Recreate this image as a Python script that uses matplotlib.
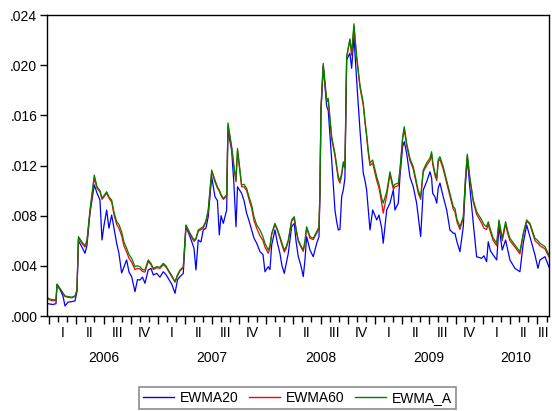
"""Daily EWMA volatility estimates, 2006-2010 (EViews-style line chart)."""

import matplotlib
matplotlib.use("Agg")

import matplotlib.pyplot as plt
import matplotlib.transforms as mtransforms
from matplotlib.lines import Line2D
from matplotlib.ticker import FixedLocator, FuncFormatter, NullFormatter


# time in decimal years, series values in units of 1e-3
T = [
    2005.979, 2006.006, 2006.034, 2006.062, 2006.071, 2006.099, 2006.126, 2006.145,
    2006.172, 2006.209, 2006.237, 2006.255, 2006.269, 2006.301, 2006.329, 2006.347,
    2006.375, 2006.415, 2006.440, 2006.467, 2006.486, 2006.504, 2006.529, 2006.550,
    2006.575, 2006.596, 2006.621, 2006.642, 2006.667, 2006.688, 2006.713, 2006.735,
    2006.759, 2006.790, 2006.813, 2006.836, 2006.859, 2006.882, 2006.912, 2006.937,
    2006.959, 2006.990, 2007.020, 2007.051, 2007.076, 2007.097, 2007.131, 2007.159,
    2007.182, 2007.205, 2007.235, 2007.260, 2007.297, 2007.334, 2007.352, 2007.373,
    2007.398, 2007.419, 2007.444, 2007.465, 2007.497, 2007.527, 2007.550, 2007.567,
    2007.583, 2007.604, 2007.635, 2007.647, 2007.681, 2007.702, 2007.721, 2007.735,
    2007.773, 2007.795, 2007.819, 2007.841, 2007.865, 2007.887, 2007.912, 2007.942,
    2007.970, 2007.988, 2008.018, 2008.034, 2008.050, 2008.080, 2008.103, 2008.126,
    2008.145, 2008.166, 2008.182, 2008.203, 2008.234, 2008.258, 2008.274, 2008.295,
    2008.320, 2008.341, 2008.357, 2008.372, 2008.403, 2008.433, 2008.465, 2008.486,
    2008.495, 2008.504, 2008.525, 2008.557, 2008.571, 2008.603, 2008.633, 2008.649,
    2008.664, 2008.679, 2008.695, 2008.710, 2008.725, 2008.741, 2008.756, 2008.771,
    2008.787, 2008.808, 2008.833, 2008.864, 2008.894, 2008.910, 2008.925, 2008.940,
    2008.956, 2008.981, 2009.018, 2009.039, 2009.064, 2009.078, 2009.110, 2009.140,
    2009.171, 2009.186, 2009.217, 2009.232, 2009.257, 2009.272, 2009.294, 2009.324,
    2009.355, 2009.386, 2009.401, 2009.423, 2009.447, 2009.478, 2009.509, 2009.524,
    2009.534, 2009.555, 2009.571, 2009.585, 2009.601, 2009.631, 2009.663, 2009.693,
    2009.724, 2009.739, 2009.758, 2009.785, 2009.816, 2009.836, 2009.853, 2009.877,
    2009.908, 2009.939, 2009.985, 2010.006, 2010.031, 2010.046, 2010.066, 2010.092,
    2010.124, 2010.145, 2010.175, 2010.206, 2010.228, 2010.246, 2010.292, 2010.338,
    2010.369, 2010.400, 2010.430, 2010.477, 2010.504, 2010.523, 2010.569, 2010.606,
]

EWMA20 = [
    1.01, 0.95, 0.92, 0.98, 2.47, 2.10, 1.60, 0.80,
    1.10, 1.15, 1.20, 1.94, 6.00, 5.50, 5.00, 5.60,
    8.20, 10.45, 9.80, 9.25, 6.06, 7.20, 8.45, 7.00,
    8.05, 7.00, 5.80, 5.00, 3.43, 3.90, 4.47, 3.50,
    3.14, 1.94, 2.90, 2.87, 3.10, 2.61, 3.67, 3.80,
    3.27, 3.40, 3.10, 3.53, 3.30, 3.00, 2.50, 1.81,
    2.90, 3.14, 3.40, 7.12, 6.33, 5.40, 3.67, 6.06,
    5.90, 6.86, 7.00, 7.92, 11.10, 9.51, 9.20, 6.46,
    8.00, 7.39, 8.45, 14.80, 13.20, 10.50, 7.12, 10.30,
    9.78, 9.20, 8.19, 7.60, 6.86, 6.20, 5.80, 5.13,
    4.90, 3.53, 3.93, 3.70, 5.66, 6.86, 5.80, 5.00,
    4.00, 3.40, 4.10, 5.00, 7.12, 7.39, 6.00, 4.73,
    4.00, 3.14, 4.50, 6.33, 5.26, 4.73, 5.80, 6.33,
    9.80, 16.20, 19.90, 16.70, 16.40, 12.44, 8.45, 7.52,
    6.86, 6.90, 9.51, 10.05, 11.00, 20.40, 20.70, 20.95,
    19.75, 22.30, 18.80, 14.80, 11.40, 10.80, 10.05, 8.50,
    6.86, 8.45, 7.66, 8.05, 7.00, 5.80, 8.45, 9.00,
    10.05, 8.45, 9.00, 11.10, 13.50, 13.90, 12.97, 11.10,
    10.30, 9.00, 7.92, 6.33, 10.05, 10.70, 11.50, 11.00,
    9.78, 9.50, 9.00, 10.20, 10.60, 9.51, 8.45, 6.86,
    6.60, 6.60, 5.90, 5.13, 7.12, 10.50, 12.57, 10.20,
    7.39, 4.73, 4.60, 4.80, 4.33, 5.92, 5.20, 4.86,
    4.47, 7.12, 5.26, 6.06, 5.20, 4.47, 3.80, 3.53,
    5.80, 7.26, 6.33, 4.86, 3.80, 4.47, 4.73, 3.90,
]

EWMA60 = [
    1.41, 1.28, 1.22, 1.22, 2.50, 2.15, 1.80, 1.55,
    1.50, 1.45, 1.55, 2.00, 6.20, 5.80, 5.50, 5.90,
    8.30, 11.00, 10.20, 9.90, 9.30, 9.50, 9.80, 9.40,
    9.10, 8.10, 7.30, 7.00, 6.40, 5.60, 5.10, 4.60,
    4.30, 3.70, 3.80, 3.75, 3.55, 3.50, 4.35, 4.10,
    3.70, 3.85, 3.80, 4.10, 3.90, 3.60, 3.10, 2.70,
    3.20, 3.60, 3.85, 7.20, 6.50, 5.95, 6.10, 6.75,
    6.90, 7.00, 7.50, 8.35, 11.50, 10.70, 10.20, 9.95,
    9.60, 9.30, 9.55, 15.20, 13.40, 11.80, 10.70, 13.20,
    10.30, 10.30, 10.00, 9.30, 8.60, 7.60, 7.00, 6.40,
    6.00, 5.50, 5.00, 5.40, 6.50, 7.30, 6.80, 6.20,
    5.65, 5.10, 5.35, 5.95, 7.55, 7.80, 6.90, 5.95,
    5.50, 5.15, 5.90, 7.00, 6.20, 6.10, 6.60, 7.00,
    10.00, 16.50, 20.00, 17.10, 17.20, 14.10, 12.80, 11.80,
    10.90, 10.60, 11.20, 12.10, 11.80, 20.60, 21.30, 22.00,
    20.80, 23.10, 20.60, 18.20, 16.80, 15.40, 14.30, 13.00,
    12.00, 12.20, 10.80, 10.20, 9.00, 8.20, 9.60, 11.30,
    10.10, 10.30, 10.40, 11.50, 14.10, 14.90, 13.60, 12.40,
    11.70, 10.40, 9.80, 9.30, 11.50, 12.00, 12.40, 12.90,
    12.10, 11.20, 10.80, 12.30, 12.50, 11.70, 10.60, 9.60,
    8.50, 8.30, 7.50, 6.90, 7.80, 10.90, 12.80, 10.90,
    9.10, 8.10, 7.40, 7.00, 6.90, 7.30, 6.70, 6.00,
    5.60, 7.50, 6.00, 7.30, 6.50, 6.00, 5.50, 4.95,
    6.50, 7.55, 7.30, 6.00, 5.80, 5.60, 5.35, 4.70,
]

EWMA_A = [
    1.49, 1.35, 1.30, 1.28, 2.55, 2.20, 1.85, 1.60,
    1.55, 1.50, 1.60, 2.07, 6.33, 5.90, 5.60, 6.00,
    8.45, 11.24, 10.30, 10.00, 9.40, 9.60, 9.91, 9.50,
    9.25, 8.30, 7.52, 7.30, 6.72, 5.90, 5.40, 4.90,
    4.60, 3.93, 4.00, 3.93, 3.70, 3.67, 4.47, 4.20,
    3.80, 3.93, 3.90, 4.20, 4.00, 3.67, 3.20, 2.74,
    3.30, 3.67, 3.93, 7.26, 6.60, 6.06, 6.20, 6.86,
    7.00, 7.12, 7.60, 8.45, 11.64, 10.84, 10.30, 10.05,
    9.70, 9.38, 9.65, 15.40, 13.50, 12.00, 10.84, 13.37,
    10.45, 10.50, 10.18, 9.50, 8.85, 7.90, 7.26, 6.86,
    6.30, 5.80, 5.26, 5.60, 6.60, 7.39, 6.90, 6.33,
    5.80, 5.26, 5.50, 6.06, 7.66, 7.92, 7.00, 6.06,
    5.60, 5.26, 6.00, 7.12, 6.33, 6.20, 6.73, 7.12,
    10.05, 16.60, 20.15, 17.20, 17.36, 14.30, 12.97, 12.00,
    11.10, 10.80, 11.38, 12.30, 11.90, 20.70, 21.40, 22.10,
    20.95, 23.30, 20.70, 18.40, 17.00, 15.60, 14.50, 13.24,
    12.20, 12.44, 11.10, 10.50, 9.40, 9.00, 9.90, 11.50,
    10.30, 10.50, 10.60, 11.64, 14.30, 15.10, 13.77, 12.57,
    11.90, 10.60, 10.00, 9.50, 11.64, 12.20, 12.60, 13.10,
    12.30, 11.38, 11.00, 12.50, 12.70, 11.90, 10.80, 9.80,
    8.70, 8.59, 7.70, 7.12, 7.92, 11.00, 12.90, 11.00,
    9.25, 8.32, 7.66, 7.30, 7.12, 7.52, 6.90, 6.20,
    5.80, 7.66, 6.20, 7.52, 6.70, 6.20, 5.66, 5.13,
    6.60, 7.66, 7.39, 6.20, 6.00, 5.80, 5.53, 4.86,
]

SCALE = 1e-3
YEARS = [2006, 2007, 2008, 2009, 2010]
QUARTERS = ["I", "II", "III", "IV"]
Y_TICKS = [0.000, 0.004, 0.008, 0.012, 0.016, 0.020, 0.024]


def span_center(lo, hi, xmin, xmax):
    lo, hi = max(lo, xmin), min(hi, xmax)
    if hi <= lo:
        return None
    return 0.5 * (lo + hi)


def main():
    plt.rcParams["font.family"] = ["Liberation Sans", "DejaVu Sans"]
    fig = plt.figure(figsize=(5.52, 4.11), dpi=100)
    ax = fig.add_axes([47 / 552, 1 - 316 / 411, 502 / 552, 301 / 411])

    series = [
        ("EWMA20", EWMA20, "#0000ff"),
        ("EWMA60", EWMA60, "#ff0000"),
        ("EWMA_A", EWMA_A, "#008000"),
    ]
    for name, vals, color in series:
        ax.plot(T, [v * SCALE for v in vals], color=color, lw=0.9, label=name)

    xmin, xmax = T[0], T[-1]
    ax.set_xlim(xmin, xmax)
    ax.set_ylim(0, 0.024)

    ax.yaxis.set_major_locator(FixedLocator(Y_TICKS))
    ax.yaxis.set_major_formatter(FuncFormatter(lambda v, _: f"{v:.3f}".lstrip("0")))

    months = [y + m / 12 for y in range(2005, 2011) for m in range(12)]
    quarters = [y + q / 4 for y in range(2005, 2011) for q in range(4)]
    ax.xaxis.set_major_locator(FixedLocator([q for q in quarters if xmin <= q <= xmax]))
    ax.xaxis.set_minor_locator(FixedLocator([m for m in months if xmin <= m <= xmax]))
    ax.xaxis.set_major_formatter(NullFormatter())

    ax.tick_params(axis="x", which="major", direction="out", length=6, width=1.0)
    ax.tick_params(axis="x", which="minor", direction="out", length=4, width=1.0)
    ax.tick_params(axis="y", direction="out", length=5, width=1.0, labelsize=10, pad=2)
    for sp in ax.spines.values():
        sp.set_linewidth(1.0)
        sp.set_color("black")

    # quarter and year labels, centred over the visible part of each period
    base = ax.get_xaxis_transform()
    q_trans = mtransforms.offset_copy(base, fig=fig, x=0, y=-17, units="dots")
    y_trans = mtransforms.offset_copy(base, fig=fig, x=0, y=-42, units="dots")
    for year in YEARS:
        for i, qname in enumerate(QUARTERS):
            c = span_center(year + i / 4, year + (i + 1) / 4, xmin, xmax)
            if c is not None:
                ax.text(c, 0, qname, transform=q_trans, ha="center", va="center",
                        fontsize=10, clip_on=False)
        c = span_center(year, year + 1, xmin, xmax)
        if c is not None:
            ax.text(c, 0, str(year), transform=y_trans, ha="center", va="center",
                    fontsize=10, clip_on=False)

    handles = [Line2D([], [], color=c, lw=1.0) for _, _, c in series]
    leg = fig.legend(handles, [n for n, _, _ in series], loc="center",
                     bbox_to_anchor=(297.5 / 552, 1 - 398 / 411), ncol=3,
                     fancybox=False, edgecolor="#707070", fontsize=10,
                     handlelength=2.2, handletextpad=0.45, columnspacing=0.75,
                     borderpad=0.3, borderaxespad=0)
    leg.get_frame().set_linewidth(1.2)

    fig.savefig("out.png", dpi=100)
    plt.close(fig)


if __name__ == "__main__":
    main()
